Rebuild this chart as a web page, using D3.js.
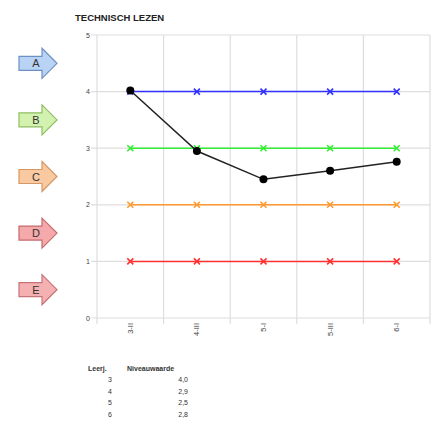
<!DOCTYPE html>
<html>
<head>
<meta charset="utf-8">
<script src="https://cdn.jsdelivr.net/npm/d3@7"></script>
<style>
  html, body { margin: 0; padding: 0; background: #fff; overflow: hidden; }
  svg { display: block; }
  text { font-family: "Liberation Sans", Arial, sans-serif; }
</style>
</head>
<body>
<div id="plot"></div>
<script>
  const w = 431;
  const h = 421;
  const margin = {top: 35, right: 1, bottom: 103, left: 97};
  const innerWidth = w - margin.left - margin.right;
  const innerHeight = h - margin.top - margin.bottom;

  // data
  const categories = ["3-II", "4-III", "5-I", "5-III", "6-I"];
  const niveau = [4.02, 2.95, 2.45, 2.6, 2.76];
  const levelA = [4, 4, 4, 4, 4];
  const levelB = [3, 3, 3, 3, 3];
  const levelC = [2, 2, 2, 2, 2];
  const levelD = [1, 1, 1, 1, 1];
  const yTicks = [0, 1, 2, 3, 4, 5];
  const arrowLabels = ["A", "B", "C", "D", "E"];
  const arrowPos = [4.5, 3.5, 2.5, 1.5, 0.5];
  const tableYears = ["3", "4", "5", "6"];
  const tableValues = ["4,0", "2,9", "2,5", "2,8"];

  const svg = d3.select("div#plot")
      .append("svg")
      .attr("width", w)
      .attr("height", h);

  const xScale = d3.scaleBand()
      .domain(categories)
      .range([0, innerWidth]);

  const yScale = d3.scaleLinear()
      .domain([0, 5])
      .range([innerHeight, 0]);

  const g = svg.append("g")
      .attr("transform", `translate(${margin.left}, ${margin.top})`);

  // grid
  g.append("g")
    .selectAll("line")
    .data(yTicks)
    .join("line")
      .attr("x1", -6)
      .attr("x2", innerWidth)
      .attr("y1", d => yScale(d))
      .attr("y2", d => yScale(d))
      .attr("stroke", "#dedede")
      .attr("stroke-width", 1.2);

  const vlines = categories.map(c => xScale(c)).concat([innerWidth]);
  g.append("g")
    .selectAll("line")
    .data(vlines)
    .join("line")
      .attr("x1", d => d)
      .attr("x2", d => d)
      .attr("y1", 0)
      .attr("y2", innerHeight + 6)
      .attr("stroke", "#dedede")
      .attr("stroke-width", 1.2);

  // y labels
  g.append("g")
    .selectAll("text")
    .data(yTicks)
    .join("text")
      .attr("x", -9)
      .attr("y", d => yScale(d) + 2.5)
      .attr("text-anchor", "middle")
      .attr("font-size", 7)
      .attr("fill", "#444")
      .text(d => d);

  // x labels rotated
  g.append("g")
    .selectAll("text")
    .data(categories)
    .join("text")
      .attr("transform", d => `translate(${xScale(d) + xScale.bandwidth() / 2 + 2.5}, ${innerHeight + 5}) rotate(-90)`)
      .attr("text-anchor", "end")
      .attr("font-size", 7.5)
      .attr("fill", "#444")
      .text(d => d);

  const cx = d => xScale(d) + xScale.bandwidth() / 2;
  const line = d3.line()
      .x((d, i) => cx(categories[i]))
      .y(d => yScale(d));

  const levels = [
    {values: levelD, color: "#ff3333"},
    {values: levelC, color: "#ff9a33"},
    {values: levelB, color: "#33ee33"},
    {values: levelA, color: "#3333ff"}
  ];

  levels.forEach(s => {
    g.append("path")
        .datum(s.values)
        .attr("d", line)
        .attr("fill", "none")
        .attr("stroke", s.color)
        .attr("stroke-width", 1.5);

    const m = 3;
    g.append("g")
      .selectAll("path")
      .data(s.values)
      .join("path")
        .attr("d", (d, i) => {
          const x = cx(categories[i]), y = yScale(d);
          return `M${x - m},${y - m}L${x + m},${y + m}M${x - m},${y + m}L${x + m},${y - m}`;
        })
        .attr("stroke", s.color)
        .attr("stroke-width", 1.6);
  });

  g.append("path")
      .datum(niveau)
      .attr("d", line)
      .attr("fill", "none")
      .attr("stroke", "#222")
      .attr("stroke-width", 1.5);

  g.append("g")
    .selectAll("circle")
    .data(niveau)
    .join("circle")
      .attr("cx", (d, i) => cx(categories[i]))
      .attr("cy", d => yScale(d))
      .attr("r", 4)
      .attr("fill", "#000");

  // title
  svg.append("text")
      .attr("x", 75)
      .attr("y", 21)
      .attr("font-size", 9.5)
      .attr("font-weight", "bold")
      .attr("fill", "#222")
      .text("TECHNISCH LEZEN");

  // arrows on the left
  const arrowFill = ["#b9d3f5", "#d3f2b0", "#f9c9a2", "#f5a9aa", "#f5b0b2"];
  const arrowStroke = ["#6d90c4", "#8fbd62", "#d69863", "#c46b6e", "#c67478"];
  const arrows = svg.append("g");
  arrowLabels.forEach((lab, i) => {
    const y = margin.top + yScale(arrowPos[i]);
    const x0 = 19;
    const pts = [
      [x0, y - 7], [x0 + 23, y - 7], [x0 + 23, y - 15], [x0 + 38, y],
      [x0 + 23, y + 15], [x0 + 23, y + 7], [x0, y + 7]
    ];
    arrows.append("path")
        .attr("d", d3.line()(pts) + "Z")
        .attr("fill", arrowFill[i])
        .attr("stroke", arrowStroke[i])
        .attr("stroke-width", 1.2);
    arrows.append("text")
        .attr("x", x0 + 17)
        .attr("y", y + 4)
        .attr("text-anchor", "middle")
        .attr("font-size", 11)
        .attr("fill", "#333")
        .text(lab);
  });

  // table below
  const table = svg.append("g");
  const cell = (x, y, t, anchor, bold) => table.append("text")
      .attr("x", x).attr("y", y)
      .attr("text-anchor", anchor)
      .attr("font-size", 7)
      .attr("font-weight", bold ? "bold" : "normal")
      .attr("fill", "#333")
      .text(t);
  cell(88, 371, "Leerj.", "start", true);
  cell(127, 371, "Niveauwaarde", "start", true);
  tableYears.forEach((yr, i) => {
    const yy = 382 + i * 11.7;
    cell(112, yy, yr, "end", false);
    cell(188, yy, tableValues[i], "end", false);
  });
</script>
</body>
</html>
